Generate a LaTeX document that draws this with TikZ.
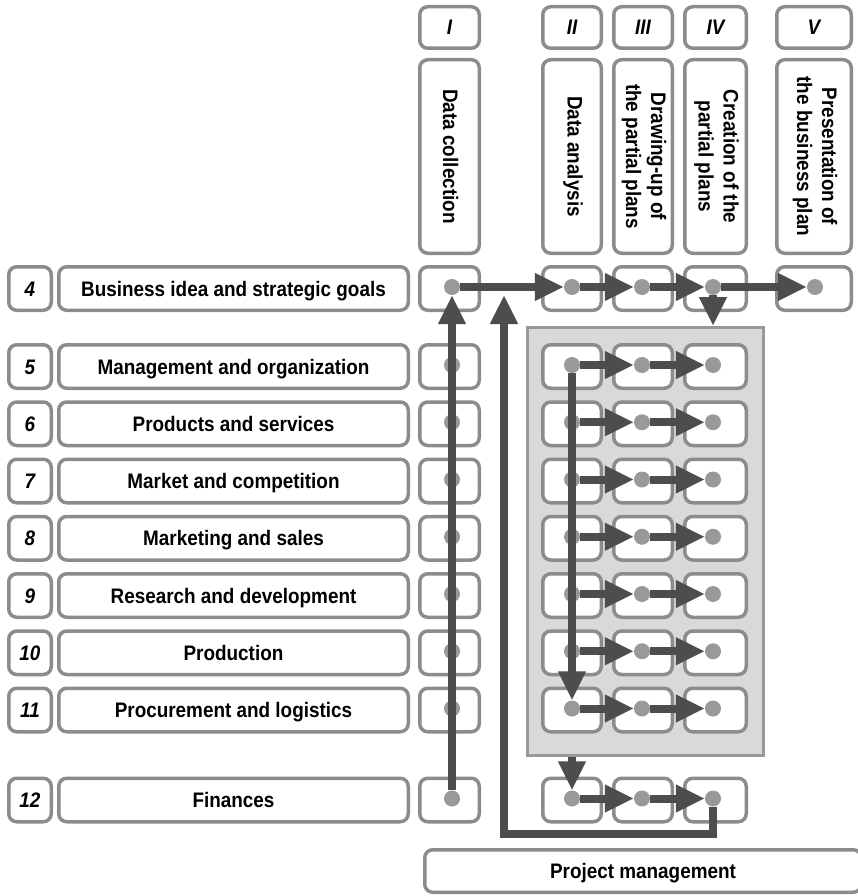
\documentclass[tikz,border=0pt]{standalone}
\usepackage{fontspec}
\setmainfont[FakeStretch=0.9]{Liberation Sans}
\usetikzlibrary{arrows.meta}
\definecolor{bord}{RGB}{140,140,140}
\definecolor{dotc}{RGB}{153,153,153}
\definecolor{arr}{RGB}{77,77,77}
\definecolor{panelfill}{RGB}{217,217,217}
\pgfdeclarelayer{dotlayer}
\pgfdeclarelayer{toplayer}
\pgfsetlayers{main,dotlayer,toplayer}
\newcommand\conn[3][]{%
  \draw[flow,#1] (#2) -- (#3);
  \begin{pgfonlayer}{toplayer}\draw[flowline] (#2) -- (#3);\end{pgfonlayer}}
\begin{document}
\begin{tikzpicture}[x=1pt,y=-1pt,
  box/.style={draw=bord, line width=3.5pt, rounded corners=8pt, fill=white, inner sep=0pt,
    text height=15pt, text depth=0pt,
    font=\fontsize{21}{25}\selectfont\bfseries},
  numbox/.style={box, minimum width=42.5pt, minimum height=43.5pt, font=\fontsize{21}{25}\selectfont\bfseries\itshape},
  labbox/.style={box, minimum width=349.5pt, minimum height=43.5pt},
  cell/.style={box, minimum height=43.5pt},
  dotn/.style={circle, fill=dotc, inner sep=0pt, minimum size=16pt},
  vtext/.style={rotate=-90, align=center, inner sep=0pt, font=\fontsize{21}{25}\selectfont\bfseries},
  flow/.style={draw=arr, line width=8pt, -{Triangle[length=29pt,width=26pt]}, shorten >=0pt},
  flowline/.style={draw=arr, line width=8pt, shorten >=31pt},
  panelbox/.style={draw=dotc, line width=3pt, fill=panelfill, inner sep=0pt}
]
\useasboundingbox (0,0) rectangle (858,896);

% panel
\node[panelbox, minimum width=236pt, minimum height=428pt] (panel) at (645.5,541.5) {};

% column headers
\foreach \c/\x/\w/\num/\txt in {
  1/449.5/59.5/I/Data collection,
  2/572/58.5/II/Data analysis,
  3/643/58.5/III/{Drawing-up of\\the partial plans},
  4/715.5/61.5/IV/{Creation of the\\partial plans},
  5/814/74.5/V/{Presentation of\\the business plan}}{
  \node[box, minimum width=\w pt, minimum height=41.5pt, font=\fontsize{21}{25}\selectfont\bfseries\itshape] (h-\c) at (\x,27.5) {\num};
  \node[box, minimum width=\w pt, minimum height=193.5pt] (v-\c) at (\x,156.5) {};
  \node[vtext] (vt-\c) at (\x+1,156.5) {\txt};
}

% rows
\foreach \r/\y/\t in {
  4/288.5/Business idea and strategic goals,
  5/366.5/Management and organization,
  6/423.75/Products and services,
  7/481/Market and competition,
  8/538.25/Marketing and sales,
  9/595.5/Research and development,
  10/652.75/Production,
  11/710/Procurement and logistics,
  12/800/Finances}{
  \node[numbox] (n-\r) at (30,\y) {\r};
  \node[labbox] (l-\r) at (233.5,\y) {\t};
  \foreach \c/\x/\w/\dx in {1/449.5/59.5/452, 2/572/58.5/572, 3/643/58.5/642, 4/715.5/61.5/713}{
    \node[cell, minimum width=\w pt] (c-\r-\c) at (\x,\y) {};
    \begin{pgfonlayer}{dotlayer}
      \node[dotn] (d-\r-\c) at (\dx,\y-1.5) {};
    \end{pgfonlayer}
  }
}
\node[cell, minimum width=74.5pt] (c-4-5) at (814,288.5) {};
\begin{pgfonlayer}{dotlayer}
  \node[dotn] (d-4-5) at (815,287) {};
\end{pgfonlayer}

% project management
\node[box, minimum width=436.5pt, minimum height=42.5pt] (pm) at (643,871) {Project management};

% connectors
\conn{d-12-1}{d-4-1}
\conn{d-4-1}{d-4-2}
\conn{d-4-2}{d-4-3}
\conn{d-4-3}{d-4-4}
\conn{d-4-4}{d-4-5}
\coordinate (ptop) at (d-4-4 |- panel.north);
\conn{d-4-4}{ptop}
\foreach \r in {5,...,11}{
  \conn{d-\r-2}{d-\r-3}
  \conn{d-\r-3}{d-\r-4}
}
\conn{d-5-2}{d-11-2}
\coordinate (pbot) at (panel.south -| d-12-2);
\conn{pbot}{d-12-2}
\conn{d-12-2}{d-12-3}
\conn{d-12-3}{d-12-4}
\coordinate (pmcorner) at (504,834);
\coordinate (pmtop) at (504,295);
\draw[flow] (d-12-4) |- (pmcorner) -- (pmtop);
\begin{pgfonlayer}{toplayer}
  \draw[draw=arr, line width=8pt] (d-12-4) |- (pmcorner);
\end{pgfonlayer}
\end{tikzpicture}
\end{document}
